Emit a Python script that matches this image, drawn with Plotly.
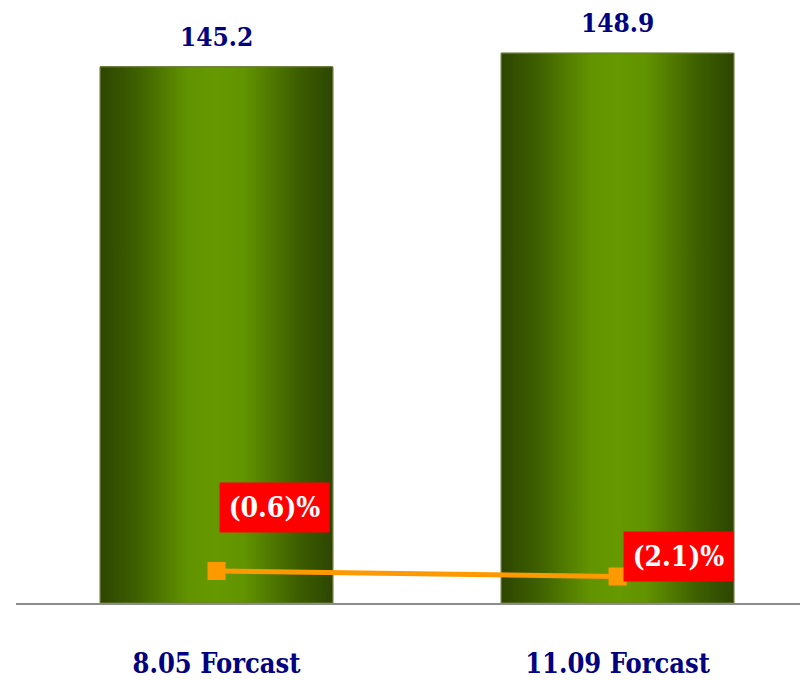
import plotly.graph_objects as go

categories = ["8.05 Forcast", "11.09 Forcast"]
bar_values = [145.2, 148.9]
pct_values = [-0.6, -2.1]
pct_labels = ["(0.6)", "(2.1)"]

BAR_W = 0.58
x_idx = list(range(len(categories)))
navy = "#000080"
serif = "DejaVu Serif Condensed, DejaVu Serif, serif"

fig = go.Figure()

fig.add_trace(go.Bar(
    x=x_idx, y=bar_values, width=BAR_W,
    marker=dict(color="#4f7a00", line=dict(color="#6b7a3a", width=1)),
    hoverinfo="skip", showlegend=False,
))

grad = [[0, "#2d4600"], [0.15, "#3d5e00"], [0.38, "#629300"], [0.5, "#669900"],
        [0.62, "#629300"], [0.85, "#3d5e00"], [1, "#2d4600"]]
for i, v in zip(x_idx, bar_values):
    x0, x1 = i - BAR_W / 2, i + BAR_W / 2
    fig.add_trace(go.Scatter(
        x=[x0, x1, x1, x0, x0], y=[0, 0, v, v, 0],
        mode="lines", fill="toself",
        line=dict(color="#6b7a3a", width=1),
        fillgradient=dict(type="horizontal", colorscale=grad, start=x0, stop=x1),
        hoverinfo="skip", showlegend=False,
    ))

fig.add_trace(go.Scatter(
    x=x_idx, y=pct_values, yaxis="y2", mode="lines+markers",
    line=dict(color="#ff9900", width=5),
    marker=dict(symbol="square", size=18, color="#ff9900"),
    hoverinfo="skip", showlegend=False,
))

annotations = []
for i, v in zip(x_idx, bar_values):
    annotations.append(dict(
        x=i, y=v, xref="x", yref="y", text=f"<b>{v:.1f}</b>",
        showarrow=False, yanchor="bottom", yshift=13,
        font=dict(family=serif, size=26, color=navy),
    ))
shifts = [(58, 63), (61, 20)]
for i, p, lab, (dx, dy) in zip(x_idx, pct_values, pct_labels, shifts):
    annotations.append(dict(
        x=i, y=p, xref="x", yref="y2",
        text=f"<b>{lab}%</b>",
        showarrow=False, xshift=dx, yshift=dy,
        bgcolor="#ff0000", width=105, height=45, borderpad=2,
        font=dict(family=serif, size=28, color="white"),
    ))

fig.update_layout(
    width=800, height=680,
    margin=dict(l=16, r=0, t=0, b=77),
    paper_bgcolor="white", plot_bgcolor="white",
    showlegend=False,
    xaxis=dict(
        range=[-0.5, 1.455], tickmode="array", tickvals=x_idx, ticktext=[f"<b>{c}</b>" for c in categories],
        showgrid=False, zeroline=False, showline=True, linecolor="#8c8c8c", linewidth=2,
        ticks="", ticklabelstandoff=36, automargin=False,
        tickfont=dict(family=serif, size=27, color=navy),
    ),
    yaxis=dict(range=[0, 163.3], visible=False, showgrid=False, automargin=False),
    yaxis2=dict(range=[-9.33, 155.1], overlaying="y", visible=False, showgrid=False, automargin=False),
    annotations=annotations,
)

fig.write_html("out.html")
